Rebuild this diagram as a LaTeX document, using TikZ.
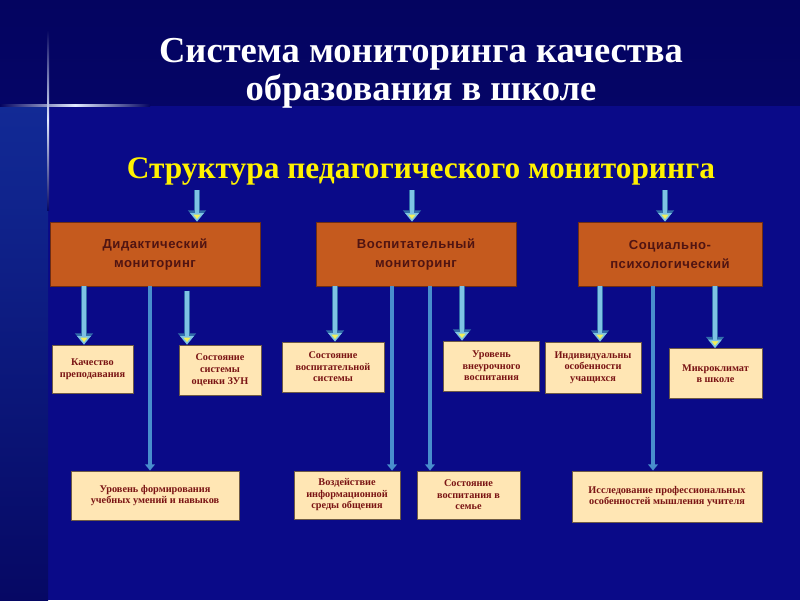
\documentclass[tikz,border=0pt]{standalone}
\usepackage{fontspec}
\setmainfont{Liberation Serif}
\newfontfamily\boxfont[LetterSpace=4]{Liberation Sans}
\usetikzlibrary{positioning, arrows.meta, calc}

\definecolor{bgtop}{RGB}{4,4,96}
\definecolor{bgbody}{RGB}{10,10,136}
\definecolor{stripa}{RGB}{18,42,150}
\definecolor{stripb}{RGB}{6,8,100}
\definecolor{glow}{RGB}{225,235,255}
\definecolor{boxorange}{RGB}{197,90,30}
\definecolor{boxedge}{RGB}{110,45,20}
\definecolor{boxtext}{RGB}{80,20,18}
\definecolor{boxcream}{RGB}{255,230,180}
\definecolor{smalledge}{RGB}{110,90,70}
\definecolor{smalltext}{RGB}{122,20,20}
\definecolor{arrowedge}{RGB}{50,110,170}
\definecolor{arrowlight}{RGB}{125,195,228}
\definecolor{arrowyellow}{RGB}{240,240,90}
\definecolor{thinblue}{RGB}{72,142,205}

\tikzset{
  titletext/.style={text=white, align=center, font=\bfseries\fontsize{26}{27}\selectfont},
  subtext/.style={text=yellow, font=\bfseries\fontsize{22.3}{24}\selectfont},
  bigbox/.style={draw=boxedge, fill=boxorange, text=boxtext, minimum height=1.6cm, align=center,
    line width=0.6pt, font=\boxfont\bfseries\fontsize{9.3}{13.5}\selectfont},
  smallbox/.style={draw=smalledge, fill=boxcream, text=smalltext, align=center,
    line width=0.6pt, font=\bfseries\fontsize{7.3}{8.2}\selectfont},
  bigarrow/.style={draw=arrowlight, line width=2.2pt,
    -{Triangle[width=9.5pt,length=6pt,line width=1pt,fill=arrowyellow]},
    preaction={draw=arrowedge, line width=3.8pt, -{Triangle[width=12.5pt,length=8pt]}}},
  thinarrow/.style={draw=thinblue, line width=2.2pt, -{Triangle[width=7pt,length=4.5pt]}}
}

\begin{document}
\begin{tikzpicture}[x=0.025cm, y=-0.025cm]
  \useasboundingbox (0,0) rectangle (800,600);
  % background
  \fill[bgbody] (0,0) rectangle (800,600);
  \shade[top color=bgtop, bottom color=bgtop!85!bgbody] (0,0) rectangle (800,105);
  \shade[top color=stripa, bottom color=stripb] (0,105) rectangle (48,600);
  \shade[left color=bgtop, right color=bgtop, middle color=glow] (0,104) rectangle (150,106.5);
  \shade[top color=bgtop, bottom color=stripb, middle color=glow] (47,30) rectangle (49,210);

  % headings
  \node[titletext] (title) at (421,73) {Система мониторинга качества\\образования в школе};
  \node[subtext] (sub) at (421,171) {Структура педагогического мониторинга};

  % first level
  \node[bigbox, minimum width=5.25cm] (dida) at (155,254) {Дидактический\\мониторинг};
  \node[bigbox, minimum width=5cm] (vosp) at (416,254) {Воспитательный\\мониторинг};
  \node[bigbox, minimum width=4.6cm] (soc) at (670,254) {Социально-\\психологический};

  % second level
  \node[smallbox, minimum width=2.025cm, minimum height=1.2cm] (kach) at (92.5,369) {Качество\\преподавания};
  \node[smallbox, minimum width=2.05cm, minimum height=1.25cm] (zun) at (220,370) {Состояние\\системы\\оценки ЗУН};
  \node[smallbox, minimum width=2.55cm, minimum height=1.25cm] (vsys) at (333,367) {Состояние\\воспитательной\\системы};
  \node[smallbox, minimum width=2.4cm, minimum height=1.25cm] (vneur) at (491.5,366) {Уровень\\внеурочного\\воспитания};
  \node[smallbox, minimum width=2.4cm, minimum height=1.275cm] (indiv) at (593,367.5) {Индивидуальны\\особенности\\учащихся};
  \node[smallbox, minimum width=2.325cm, minimum height=1.25cm] (mikro) at (715.5,373.5) {Микроклимат\\в школе};

  % third level
  \node[smallbox, minimum width=4.2cm, minimum height=1.225cm] (umen) at (155,495.5) {Уровень формирования\\учебных умений и навыков};
  \node[smallbox, minimum width=2.65cm, minimum height=1.2cm] (vozd) at (347,495) {Воздействие\\информационной\\среды общения};
  \node[smallbox, minimum width=2.575cm, minimum height=1.2cm] (semya) at (468.5,495) {Состояние\\воспитания в\\семье};
  \node[smallbox, minimum width=4.75cm, minimum height=1.275cm] (issl) at (667,496.5) {Исследование профессиональных\\особенностей мышления учителя};

  % arrows from the heading
  \coordinate (s1) at (197,190);
  \coordinate (s2) at (412,190);
  \coordinate (s3) at (665,190);
  \draw[bigarrow] (s1) -- (s1 |- dida.north);
  \draw[bigarrow] (s2) -- (s2 |- vosp.north);
  \draw[bigarrow] (s3) -- (s3 |- soc.north);

  % arrows to second level
  \draw[bigarrow] (dida.south -| 84,0) -- (kach.north -| 84,0);
  \draw[bigarrow] ([yshift=-3pt]dida.south -| 187,0) -- (zun.north -| 187,0);
  \draw[bigarrow] (vosp.south -| 335,0) -- (vsys.north -| 335,0);
  \draw[bigarrow] (vosp.south -| 462,0) -- (vneur.north -| 462,0);
  \draw[bigarrow] (soc.south -| 600,0) -- (indiv.north -| 600,0);
  \draw[bigarrow] (soc.south -| 715,0) -- (mikro.north -| 715,0);

  % long lines to third level
  \draw[thinarrow] (dida.south -| 150,0) -- (umen.north -| 150,0);
  \draw[thinarrow] (vosp.south -| 392,0) -- (vozd.north -| 392,0);
  \draw[thinarrow] (vosp.south -| 430,0) -- (semya.north -| 430,0);
  \draw[thinarrow] (soc.south -| 653,0) -- (issl.north -| 653,0);
\end{tikzpicture}
\end{document}
